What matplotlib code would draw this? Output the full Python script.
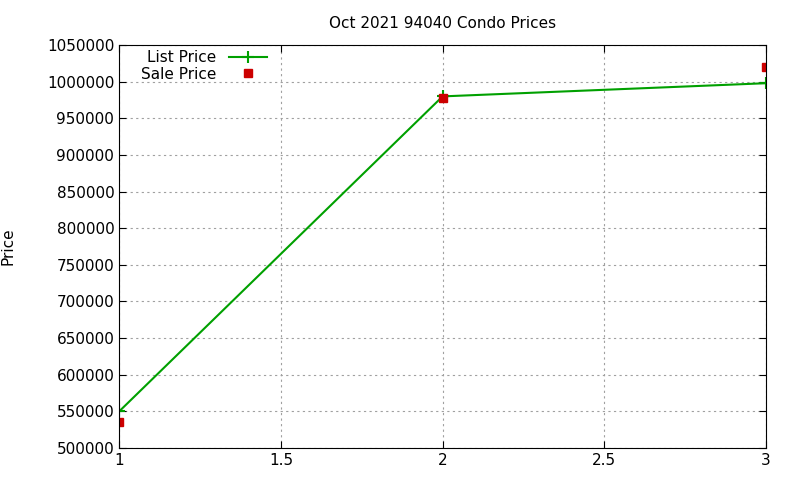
import matplotlib
matplotlib.use("Agg")
import matplotlib.pyplot as plt

x = [1, 2, 3]
list_price = [550000, 980000, 998000]
sale_price = [535000, 978000, 1020000]
xticks = [1, 1.5, 2, 2.5, 3]
yticks = list(range(500000, 1050001, 50000))

fig = plt.figure(figsize=(8, 4.8), dpi=100)
ax = fig.add_axes([0.149, 0.0667, 0.8085, 0.8393])
ax.plot(x, list_price, color='#00a000', lw=1.5, marker='+', ms=9, mew=1.5, label='List Price')
ax.plot(x, sale_price, ls='none', marker='s', ms=6, color='#cc0000', label='Sale Price')
ax.set_xlim(1, 3)
ax.set_ylim(500000, 1050000)
ax.set_xticks(xticks)
ax.set_xticklabels(['1', '1.5', '2', '2.5', '3'])
ax.set_yticks(yticks)
ax.set_yticklabels([str(v) for v in yticks])
ax.tick_params(direction='in', top=True, right=True, labelsize=11, length=5)
ax.grid(True, color='#a0a0a0', ls=(0, (2, 3)), lw=0.8)
ax.set_ylabel('Price', fontsize=11)
ax.yaxis.set_label_coords(-0.16, 0.5)
ax.set_title('Oct 2021 94040 Condo Prices', fontsize=11, pad=12)
ax.legend(loc='upper left', markerfirst=False, frameon=False, fontsize=11,
          handlelength=2.5, borderaxespad=0.2, labelspacing=0.1, bbox_to_anchor=(0.02, 1.01))
fig.savefig('out.png', dpi=100)
